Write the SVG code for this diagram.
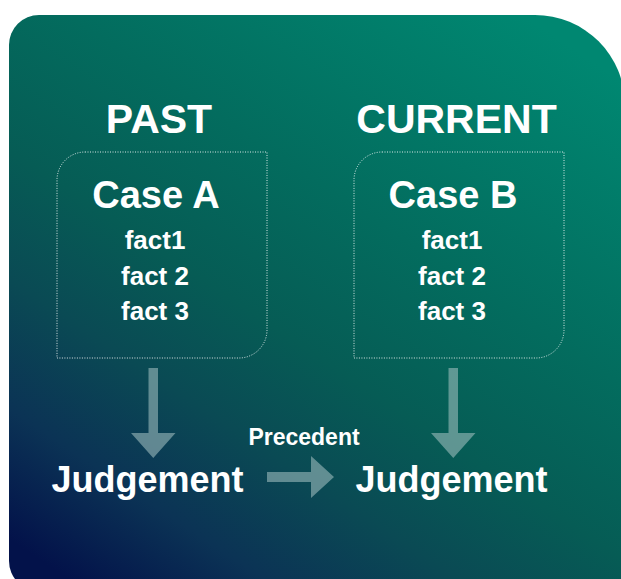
<svg xmlns="http://www.w3.org/2000/svg" width="621" height="579" viewBox="0 0 621 579">
  <defs>
    <linearGradient id="bg" gradientUnits="userSpaceOnUse" x1="100" y1="600" x2="500" y2="0">
      <stop offset="0" stop-color="#03124a"/>
      <stop offset="0.15" stop-color="#0b3355"/>
      <stop offset="0.3" stop-color="#0a4a54"/>
      <stop offset="0.45" stop-color="#065c55"/>
      <stop offset="0.65" stop-color="#036c5e"/>
      <stop offset="1" stop-color="#008771"/>
    </linearGradient>
    <style>
      .t { font-family: "Liberation Sans", Arial, sans-serif; font-weight: bold; fill: #ffffff; text-anchor: middle; }
      .box { fill: none; stroke: #ffffff; stroke-width: 1; stroke-dasharray: 1 1.5; opacity: 0.85; }
      .arrow { fill: #a9c4c4; opacity: 0.55; }
    </style>
  </defs>
  <rect width="621" height="579" fill="#ffffff"/>
  <path id="background" d="M 9 45 A 30 30 0 0 1 39 15 H 535 A 90 90 0 0 1 625 105 V 591 H 39 A 30 30 0 0 1 9 561 Z" fill="url(#bg)"/>

  <g id="headings">
    <text class="t" x="159" y="133" font-size="41">PAST</text>
    <text class="t" x="456.5" y="133" font-size="41">CURRENT</text>
  </g>

  <g id="caseA">
    <path class="box" d="M 85 152 H 267 V 330 A 28 28 0 0 1 239 358 H 57 V 180 A 28 28 0 0 1 85 152 Z"/>
    <text class="t" x="156" y="208" font-size="38">Case A</text>
    <text class="t" x="155" y="249" font-size="26">fact1</text>
    <text class="t" x="155" y="284.5" font-size="26">fact 2</text>
    <text class="t" x="155" y="320" font-size="26">fact 3</text>
  </g>

  <g id="caseB">
    <path class="box" d="M 382 152 H 564 V 330 A 28 28 0 0 1 536 358 H 354 V 180 A 28 28 0 0 1 382 152 Z"/>
    <text class="t" x="453" y="208" font-size="38">Case B</text>
    <text class="t" x="452" y="249" font-size="26">fact1</text>
    <text class="t" x="452" y="284.5" font-size="26">fact 2</text>
    <text class="t" x="452" y="320" font-size="26">fact 3</text>
  </g>

  <g id="judgementA">
    <text class="t" x="147.5" y="492" font-size="36">Judgement</text>
  </g>

  <g id="judgementB">
    <text class="t" x="451.5" y="492" font-size="36">Judgement</text>
  </g>

  <g id="connectors">
    <path class="arrow" d="M 148.5 368 H 158 V 433 H 175.5 L 153.25 458 L 131 433 H 148.5 Z"/>
    <path class="arrow" d="M 448.5 368 H 458 V 433 H 475.5 L 453.25 458 L 431 433 H 448.5 Z"/>
    <path class="arrow" d="M 267 472 H 311 V 456 L 334 477 L 311 498 V 482 H 267 Z"/>
    <text class="t" x="304" y="445" font-size="23">Precedent</text>
  </g>
</svg>
